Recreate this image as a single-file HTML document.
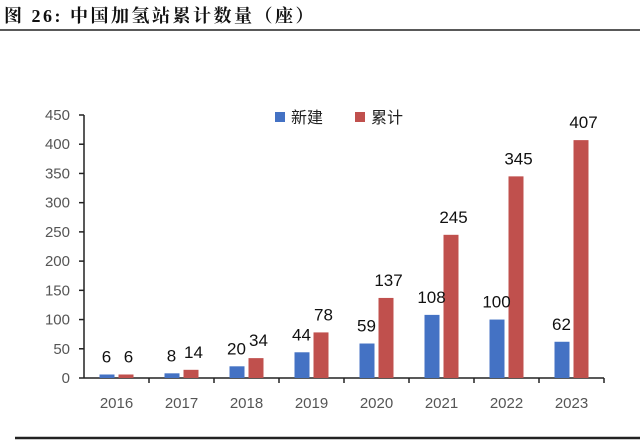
<!DOCTYPE html>
<html><head><meta charset="utf-8"><style>
body{margin:0;background:#fff;}
svg{display:block;font-family:"Liberation Sans","Noto Sans CJK SC",sans-serif;}
</style></head><body>
<svg width="640" height="442">
<text x="4" y="22" font-size="18" font-weight="bold" letter-spacing="2.5" fill="#111" font-family="Liberation Serif, Noto Serif CJK SC, serif">图 26:  中国加氢站累计数量（座）</text>
<line x1="0" y1="30" x2="640" y2="30" stroke="#222" stroke-width="1.5"/>
<line x1="15" y1="438" x2="640" y2="438" stroke="#222" stroke-width="2.5"/>
<g id="chart"></g>
</svg>
<script>
const categories=['2016','2017','2018','2019','2020','2021','2022','2023'];
const newBuilt=[6,8,20,44,59,108,100,62];
const cumulative=[6,14,34,78,137,245,345,407];
const yTicks=[0,50,100,150,200,250,300,350,400,450];
const NS='http://www.w3.org/2000/svg';
const g=document.getElementById('chart');
const x0=84,cw=65,y0=378,yTop=115,yMax=450;
const y=v=>y0-v/yMax*(y0-yTop);
function mk(t,a){const e=document.createElementNS(NS,t);for(const k in a)e.setAttribute(k,a[k]);g.appendChild(e);return e;}
let ax=mk('line',{x1:x0,y1:yTop,x2:x0,y2:y0,stroke:'#222','stroke-width':1.5});


yTicks.forEach(v=>{
 const t=mk('line',{x1:x0-5,y1:y(v),x2:x0,y2:y(v),stroke:'#222','stroke-width':1.5});
 
 
 const l=mk('text',{x:x0-14,y:y(v)+5,'font-size':15,fill:'#555','text-anchor':'end'});
 l.textContent=v;
 
 
});
const xa=mk('line',{x1:x0,y1:y0,x2:x0+cw*categories.length,y2:y0,stroke:'#222','stroke-width':1.5});


categories.forEach((c,i)=>{
 const cx=x0+cw*i+cw/2;
 const t=mk('line',{x1:x0+cw*(i+1),y1:y0,x2:x0+cw*(i+1),y2:y0+5,stroke:'#222','stroke-width':1.5});
 
 
 const l=mk('text',{x:cx,y:408,'font-size':15,fill:'#555','text-anchor':'middle'});
 l.textContent=c;
 
 
 const b1=mk('rect',{x:cx-17,y:y(newBuilt[i]),width:15,height:y0-y(newBuilt[i]),fill:'#4472C4'});
 
 
 const b2=mk('rect',{x:cx+2,y:y(cumulative[i]),width:15,height:y0-y(cumulative[i]),fill:'#C0504D'});
 
 
 const v1=mk('text',{x:cx-10,y:y(newBuilt[i])-12,'font-size':17,fill:'#111','text-anchor':'middle'});
 v1.textContent=newBuilt[i];
 
 
 const v2=mk('text',{x:cx+12,y:y(cumulative[i])-12,'font-size':17,fill:'#111','text-anchor':'middle'});
 v2.textContent=cumulative[i];
 
 
});
const lg=[['新建','#4472C4',275],['累计','#C0504D',355]];
lg.forEach(([n,col,lx])=>{
 const r=mk('rect',{x:lx,y:112,width:10,height:10,fill:col});
 
 
 const t=mk('text',{x:lx+16,y:123,'font-size':16,fill:'#222'});
 t.textContent=n;
 
 
});
</script>
</body></html>
